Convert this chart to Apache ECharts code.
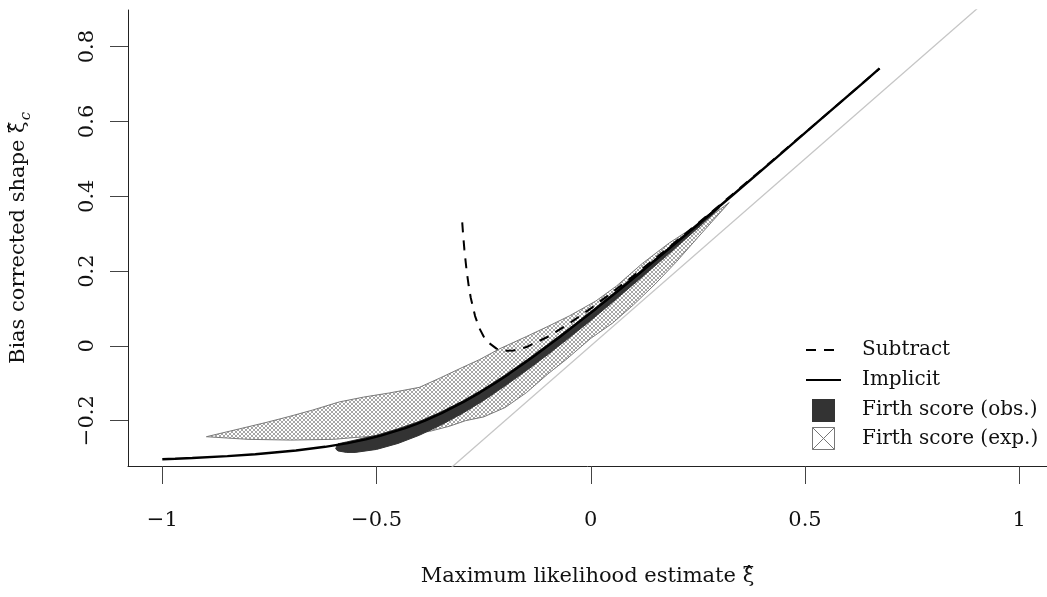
<!DOCTYPE html>
<html>
<head>
<meta charset="utf-8">
<script src="https://cdn.jsdelivr.net/npm/echarts@6/dist/echarts.min.js"></script>
<style>
  html, body { margin: 0; padding: 0; background: #fff; }
  #chart { width: 1047px; height: 597px; }
</style>
</head>
<body>
<div id="chart"></div>
<script>
// Tick positions
const xTicks = [-1, -0.5, 0, 0.5, 1];
const yTicks = [-0.2, 0, 0.2, 0.4, 0.6, 0.8];

// Implicit bias correction
const implicitX = [-1.0, -0.97, -0.93, -0.848, -0.783, -0.688, -0.62, -0.567, -0.525, -0.49, -0.433,
  -0.409, -0.387, -0.348, -0.297, -0.259, -0.224, -0.191, -0.16, -0.1295, -0.1, -0.071, -0.043,
  0.013, 0.067, 0.12, 0.225, 0.328, 0.43, 0.531, 0.632, 0.674];
const implicitY = [-0.3034, -0.302, -0.300, -0.295, -0.29, -0.28, -0.27, -0.26, -0.25, -0.24, -0.22,
  -0.21, -0.2, -0.18, -0.15, -0.125, -0.1, -0.075, -0.05, -0.025, 0, 0.025, 0.05,
  0.1, 0.15, 0.2, 0.3, 0.4, 0.5, 0.6, 0.7, 0.742];

// Subtractive bias correction
const subtractX = [-0.3, -0.298, -0.295, -0.29, -0.285, -0.28, -0.27, -0.26, -0.25, -0.24, -0.22,
  -0.2, -0.18, -0.15, -0.1, -0.05, 0, 0.05, 0.1, 0.15, 0.2, 0.3, 0.4, 0.5, 0.6, 0.674];
const subtractY = [0.33, 0.2985, 0.2578, 0.2034, 0.1613, 0.128, 0.0796, 0.0472, 0.025, 0.0097, -0.0074,
  -0.0133, -0.0124, -0.0032, 0.0243, 0.0599, 0.1, 0.1428, 0.1874, 0.2333, 0.28, 0.3753, 0.4721, 0.57, 0.6686, 0.7418];

// Firth score, observed information: band limits
const obsX = [-0.595, -0.59, -0.57, -0.55, -0.5, -0.45, -0.4, -0.35, -0.3, -0.25, -0.2, -0.15, -0.1,
  -0.05, 0, 0.05, 0.1, 0.15, 0.2, 0.25, 0.3];
const obsUpper = [-0.274, -0.262, -0.257, -0.252, -0.239, -0.222, -0.202, -0.177, -0.148, -0.115, -0.078,
  -0.038, 0.004, 0.047, 0.092, 0.138, 0.185, 0.232, 0.280, 0.328, 0.375];
const obsLower = [-0.276, -0.281, -0.285, -0.285, -0.277, -0.261, -0.239, -0.212, -0.181, -0.146, -0.107,
  -0.066, -0.023, 0.022, 0.068, 0.116, 0.165, 0.214, 0.264, 0.315, 0.368];

// Firth score, expected information: region outline
const expUpperX = [-0.897, -0.82, -0.758, -0.704, -0.65, -0.587, -0.53, -0.47, -0.40, -0.35, -0.30,
  -0.26, -0.213, -0.15, -0.10, -0.05, 0.012, 0.06, 0.12, 0.183, 0.23, 0.269, 0.323];
const expUpperY = [-0.243, -0.222, -0.205, -0.189, -0.172, -0.150, -0.137, -0.126, -0.111, -0.085, -0.058,
  -0.037, -0.008, 0.025, 0.052, 0.080, 0.120, 0.160, 0.220, 0.275, 0.310, 0.337, 0.383];
const expLowerX = [0.323, 0.25, 0.2, 0.15, 0.1, 0.05, 0, -0.058, -0.1, -0.15, -0.2, -0.25, -0.292,
  -0.33, -0.377, -0.45, -0.55, -0.6, -0.7, -0.8, -0.897];
const expLowerY = [0.383, 0.29, 0.225, 0.165, 0.11, 0.06, 0.02, -0.037, -0.075, -0.125, -0.165, -0.19, -0.200,
  -0.215, -0.229, -0.238, -0.245, -0.250, -0.252, -0.250, -0.243];

// Identity reference line
const identityX = [-1.1, 1.1];

const FONT = 'DejaVu Serif';

const zip = (xs, ys) => xs.map((x, i) => [x, ys[i]]);

// Cross-hatch fill tile
function hatchTile() {
  const c = document.createElement('canvas');
  c.width = 4; c.height = 4;
  const g = c.getContext('2d');
  g.fillStyle = '#fff';
  g.fillRect(0, 0, 4, 4);
  g.fillStyle = '#a6a6a6';
  for (let i = 0; i < 4; i++) {
    g.fillRect(i, i, 1, 1);
    g.fillRect(3 - i, i, 1, 1);
  }
  return c;
}
const hatch = { image: hatchTile(), repeat: 'repeat' };

const expPolygon = zip(expUpperX, expUpperY).concat(zip(expLowerX, expLowerY));
const obsPolygon = zip(obsX, obsUpper).concat(zip(obsX.slice().reverse(), obsLower.slice().reverse()));

function polygonSeries(points, style) {
  return {
    type: 'custom',
    silent: true,
    clip: true,
    data: points,
    renderItem: function (params, api) {
      if (params.dataIndex !== 0) return null;
      return {
        type: 'polygon',
        shape: { points: points.map(p => api.coord(p)) },
        style: style
      };
    }
  };
}

const fmt = v => (v < 0 ? '\u2212' + Math.abs(v) : String(v));

const chart = echarts.init(document.getElementById('chart'), null, { renderer: 'canvas' });

const legendText = (t, y) => ({
  type: 'text',
  x: 862, y: y,
  style: { text: t, font: '20px "' + FONT + '"', fill: '#111', verticalAlign: 'middle', textVerticalAlign: 'middle' }
});

chart.setOption({
  animation: false,
  backgroundColor: '#fff',
  grid: { left: 128, top: 10, right: 0, bottom: 131, containLabel: false },
  xAxis: {
    type: 'value',
    min: -1.08, max: 1.0647,
    name: '{t|Maximum likelihood estimate }{m|ξ\u0302}',
    nameLocation: 'middle',
    nameGap: 100,
    nameTextStyle: {
      rich: {
        t: { fontFamily: FONT, fontSize: 21, color: '#111' },
        m: { fontFamily: FONT, fontSize: 21, color: '#111' }
      }
    },
    axisLine: { show: true, onZero: false, lineStyle: { color: '#222', width: 1 } },
    axisTick: { show: true, length: 18, inside: false, customValues: xTicks, lineStyle: { color: '#444' } },
    axisLabel: { customValues: xTicks, formatter: fmt, margin: 44, fontFamily: FONT, fontSize: 21, color: '#111' },
    splitLine: { show: false }
  },
  yAxis: {
    type: 'value',
    min: -0.3213, max: 0.898,
    name: '{t|Bias corrected shape }{m|ξ\u0302}{s|c}',
    nameLocation: 'middle',
    nameRotate: 90,
    nameGap: 94,
    nameTextStyle: {
      rich: {
        t: { fontFamily: FONT, fontSize: 21, color: '#111', lineHeight: 30, verticalAlign: 'middle' },
        m: { fontFamily: FONT, fontSize: 21, color: '#111', lineHeight: 30, verticalAlign: 'middle' },
        s: { fontFamily: FONT, fontSize: 15, fontStyle: 'italic', color: '#111', lineHeight: 30, verticalAlign: 'bottom', padding: [0, 0, 0, 1] }
      }
    },
    axisLine: { show: true, onZero: false, lineStyle: { color: '#222', width: 1 } },
    axisTick: { show: true, length: 18, inside: false, customValues: yTicks, lineStyle: { color: '#444' } },
    axisLabel: { customValues: yTicks, formatter: fmt, rotate: 90, margin: 30, fontFamily: FONT, fontSize: 21, color: '#111' },
    splitLine: { show: false }
  },
  series: [
    {
      type: 'line', silent: true, showSymbol: false, clip: true,
      data: identityX.map(x => [x, x]),
      lineStyle: { color: '#c6c6c6', width: 1.3 }
    },
    polygonSeries(expPolygon, { fill: hatch, stroke: '#7a7a7a', lineWidth: 1 }),
    polygonSeries(obsPolygon, { fill: '#333333', stroke: '#333333', lineWidth: 1, lineJoin: 'round' }),
    {
      type: 'line', silent: true, showSymbol: false, clip: true,
      data: zip(subtractX, subtractY),
      lineStyle: { color: '#000', width: 2, type: [10, 8] }
    },
    {
      type: 'line', silent: true, showSymbol: false, clip: true,
      data: zip(implicitX, implicitY),
      lineStyle: { color: '#000', width: 2.4 }
    }
  ],
  graphic: [
    { type: 'line', shape: { x1: 806, y1: 350, x2: 834, y2: 350 }, style: { stroke: '#000', lineWidth: 2, lineDash: [10, 8] } },
    legendText('Subtract', 350),
    { type: 'line', shape: { x1: 806, y1: 380, x2: 841, y2: 380 }, style: { stroke: '#000', lineWidth: 2 } },
    legendText('Implicit', 380),
    { type: 'rect', shape: { x: 812, y: 399, width: 23, height: 23 }, style: { fill: '#333' } },
    legendText('Firth score (obs.)', 410),
    { type: 'rect', shape: { x: 812.5, y: 427.5, width: 22, height: 22 }, style: { fill: '#fff', stroke: '#777', lineWidth: 1 } },
    { type: 'line', shape: { x1: 812.5, y1: 427.5, x2: 834.5, y2: 449.5 }, style: { stroke: '#777', lineWidth: 1 } },
    { type: 'line', shape: { x1: 834.5, y1: 427.5, x2: 812.5, y2: 449.5 }, style: { stroke: '#777', lineWidth: 1 } },
    legendText('Firth score (exp.)', 439)
  ]
});
</script>
</body>
</html>
